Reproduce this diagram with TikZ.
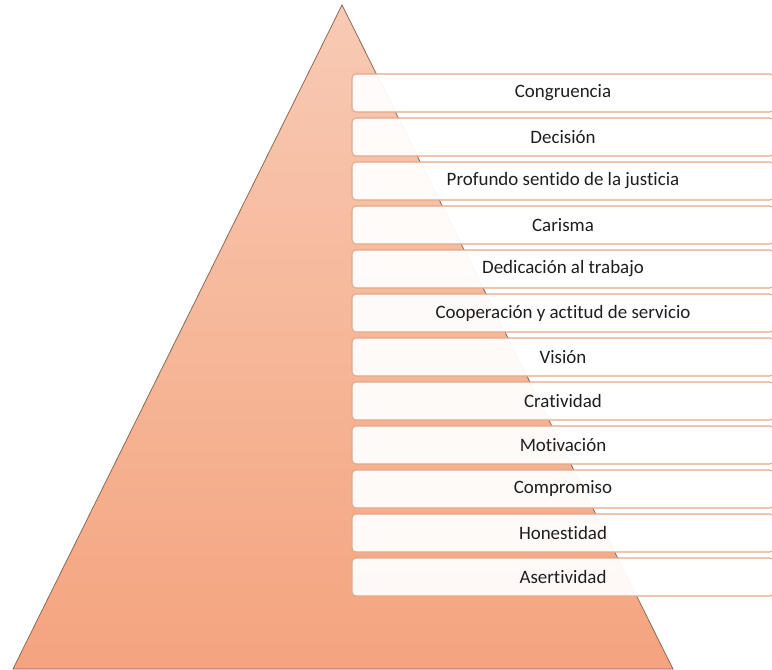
\documentclass[tikz,border=0pt]{standalone}
\usepackage{fontspec}
\setmainfont{Carlito}[Ligatures=NoCommon]
\usepackage{tikz}
\usetikzlibrary{positioning}
\definecolor{pyrtop}{RGB}{248,202,180}
\definecolor{pyrbot}{RGB}{244,164,126}
\definecolor{pyredge}{RGB}{140,105,85}
\definecolor{boxedge}{RGB}{226,168,138}
\definecolor{boxtext}{RGB}{30,30,30}
\tikzstyle{pyramid}=[draw=pyredge, line width=0.6pt, top color=pyrtop, bottom color=pyrbot]
\tikzstyle{trait}=[draw=boxedge, line width=0.8pt, fill=white, fill opacity=0.94, text opacity=1, rounded corners=3pt, minimum width=316.5pt, minimum height=28.5pt, inner sep=0pt, outer sep=0pt, text=boxtext, font=\fontsize{14.2}{16}\selectfont]

\begin{document}
\begin{tikzpicture}[x=0.75pt, y=-0.75pt]
        \useasboundingbox (0, 0) rectangle (772, 669);
        \coordinate (apex) at (342, 5);
        \coordinate (bl)   at (13, 669);
        \coordinate (br)   at (673, 669);
        \draw[pyramid] (apex) -- (br) -- (bl) -- cycle;
        \node[trait, anchor=north west]  (T1)  at (352, 74) {Congruencia};
        \node[trait, below=4.5pt of T1]  (T2)  {Decisión};
        \node[trait, below=4.5pt of T2]  (T3)  {Profundo sentido de la justicia};
        \node[trait, below=4.5pt of T3]  (T4)  {Carisma};
        \node[trait, below=4.5pt of T4]  (T5)  {Dedicación al trabajo};
        \node[trait, below=4.5pt of T5]  (T6)  {Cooperación y actitud de servicio};
        \node[trait, below=4.5pt of T6]  (T7)  {Visión};
        \node[trait, below=4.5pt of T7]  (T8)  {Cratividad};
        \node[trait, below=4.5pt of T8]  (T9)  {Motivación};
        \node[trait, below=4.5pt of T9]  (T10) {Compromiso};
        \node[trait, below=4.5pt of T10] (T11) {Honestidad};
        \node[trait, below=4.5pt of T11] (T12) {Asertividad};
    \end{tikzpicture}
\end{document}
